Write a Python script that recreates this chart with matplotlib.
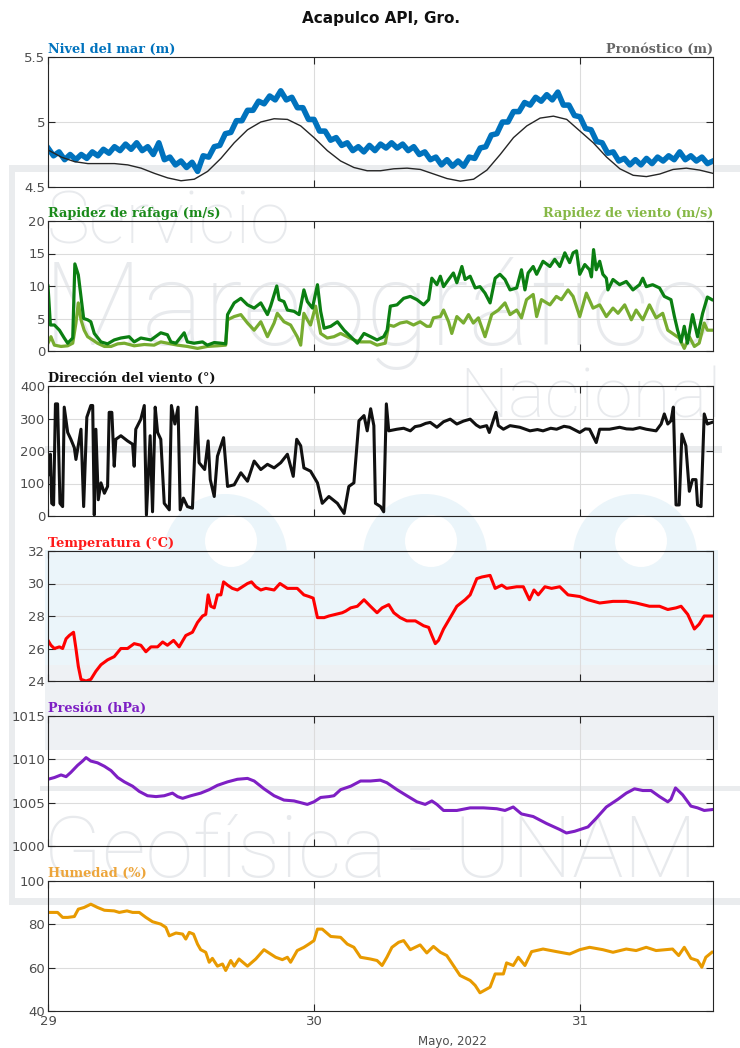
import numpy as np
import matplotlib.pyplot as plt
from matplotlib.patches import Rectangle, Circle

# ------------------ Datos: días de mayo de 2022 ------------------
# nivel del mar observado, cada 30 min desde el 29 a las 00:00
nivel_mar = [
    4.80, 4.74, 4.77, 4.71, 4.75, 4.71, 4.75, 4.72, 4.77, 4.74,
    4.79, 4.76, 4.81, 4.78, 4.83, 4.79, 4.84, 4.78, 4.81, 4.75,
    4.84, 4.71, 4.73, 4.67, 4.70, 4.65, 4.69, 4.62, 4.74, 4.73,
    4.81, 4.82, 4.91, 4.92, 5.01, 5.01, 5.09, 5.09, 5.16, 5.14,
    5.20, 5.17, 5.24, 5.17, 5.19, 5.11, 5.11, 5.02, 5.02, 4.93,
    4.93, 4.86, 4.88, 4.82, 4.84, 4.78, 4.81, 4.77, 4.82, 4.78,
    4.83, 4.80, 4.84, 4.80, 4.83, 4.78, 4.81, 4.75, 4.77, 4.71,
    4.73, 4.67, 4.71, 4.66, 4.70, 4.66, 4.73, 4.72, 4.80, 4.81,
    4.90, 4.91, 5.00, 5.00, 5.08, 5.08, 5.15, 5.13, 5.19, 5.16,
    5.21, 5.17, 5.23, 5.13, 5.13, 5.05, 5.04, 4.95, 4.94, 4.85,
    4.84, 4.76, 4.77, 4.70, 4.72, 4.67, 4.71, 4.67, 4.72, 4.68,
    4.73, 4.70, 4.74, 4.71, 4.77, 4.71, 4.74, 4.70, 4.73, 4.68,
    4.70]

# marea pronosticada, cada 0.05 días
pronostico = [
    4.785, 4.73, 4.695, 4.68, 4.68, 4.68, 4.67, 4.645, 4.605, 4.57,
    4.548, 4.56, 4.62, 4.72, 4.84, 4.94, 5.00, 5.025, 5.02, 4.97,
    4.88, 4.78, 4.70, 4.65, 4.625, 4.625, 4.64, 4.645, 4.635, 4.60,
    4.565, 4.545, 4.56, 4.63, 4.75, 4.88, 4.97, 5.03, 5.045, 5.02,
    4.93, 4.84, 4.73, 4.64, 4.59, 4.58, 4.60, 4.635, 4.645, 4.63,
    4.605]

rafaga_t = [
    29.000, 29.009, 29.024, 29.043, 29.061, 29.074, 29.093, 29.101, 29.114, 29.121,
    29.134, 29.149, 29.161, 29.174, 29.199, 29.224, 29.249, 29.274, 29.305, 29.324,
    29.349, 29.387, 29.424, 29.449, 29.462, 29.481, 29.512, 29.524, 29.549, 29.581,
    29.599, 29.625, 29.650, 29.668, 29.675, 29.700, 29.725, 29.750, 29.775, 29.800,
    29.825, 29.837, 29.860, 29.869, 29.887, 29.900, 29.925, 29.944, 29.962, 29.975,
    29.994, 30.013, 30.025, 30.038, 30.063, 30.088, 30.113, 30.138, 30.163, 30.188,
    30.213, 30.237, 30.262, 30.275, 30.287, 30.312, 30.337, 30.362, 30.387, 30.412,
    30.431, 30.443, 30.462, 30.475, 30.487, 30.506, 30.524, 30.537, 30.556, 30.568,
    30.587, 30.606, 30.624, 30.643, 30.662, 30.681, 30.699, 30.718, 30.737, 30.762,
    30.780, 30.793, 30.805, 30.824, 30.837, 30.861, 30.887, 30.905, 30.924, 30.943,
    30.961, 30.974, 30.987, 30.999, 31.018, 31.036, 31.043, 31.051, 31.061, 31.074,
    31.086, 31.099, 31.105, 31.124, 31.149, 31.174, 31.199, 31.224, 31.236, 31.249,
    31.273, 31.299, 31.317, 31.342, 31.355, 31.367, 31.380, 31.392, 31.404, 31.423,
    31.442, 31.461, 31.479, 31.496]
rafaga = [
    10.0, 4.0, 4.0, 3.2, 2.0, 1.2, 2.0, 13.4, 11.7, 9.4,
    5.0, 4.8, 4.5, 2.7, 1.4, 1.1, 1.7, 2.0, 2.2, 1.4,
    2.0, 1.7, 2.8, 2.5, 1.4, 1.2, 2.8, 1.4, 1.2, 1.4,
    0.9, 1.3, 1.2, 1.1, 5.6, 7.4, 8.1, 7.1, 6.6, 7.4,
    5.6, 6.9, 10.0, 7.9, 7.6, 6.3, 6.1, 5.6, 9.4, 7.6,
    6.6, 10.2, 6.1, 3.5, 3.8, 4.5, 3.2, 2.2, 1.2, 2.7,
    2.2, 1.7, 2.2, 3.2, 6.9, 7.1, 8.1, 8.4, 7.9, 7.1,
    7.9, 11.2, 10.2, 11.5, 9.9, 11.0, 12.0, 10.5, 13.0, 11.0,
    11.5, 9.7, 9.9, 8.9, 7.4, 11.2, 11.8, 11.0, 9.4, 9.7,
    12.5, 9.4, 12.0, 13.0, 11.8, 13.8, 13.0, 14.1, 13.0, 15.1,
    13.6, 15.1, 15.4, 11.8, 13.3, 12.5, 11.4, 15.6, 12.5, 13.8,
    11.8, 11.2, 9.4, 11.0, 10.2, 10.7, 9.4, 10.2, 11.2, 9.9,
    10.2, 9.7, 8.4, 7.9, 5.3, 3.2, 1.4, 3.8, 1.2, 5.6,
    2.2, 5.8, 8.3, 7.9]

viento_t = [
    29.000, 29.011, 29.024, 29.049, 29.074, 29.093, 29.105, 29.114, 29.124, 29.136,
    29.149, 29.168, 29.186, 29.212, 29.237, 29.262, 29.287, 29.324, 29.362, 29.399,
    29.424, 29.449, 29.487, 29.524, 29.562, 29.599, 29.637, 29.668, 29.675, 29.700,
    29.725, 29.750, 29.775, 29.800, 29.825, 29.850, 29.862, 29.887, 29.912, 29.937,
    29.950, 29.962, 29.975, 29.987, 30.006, 30.025, 30.050, 30.075, 30.100, 30.125,
    30.150, 30.175, 30.212, 30.237, 30.268, 30.281, 30.300, 30.324, 30.349, 30.374,
    30.399, 30.424, 30.437, 30.449, 30.475, 30.487, 30.506, 30.518, 30.537, 30.562,
    30.581, 30.599, 30.618, 30.643, 30.668, 30.693, 30.718, 30.737, 30.762, 30.780,
    30.799, 30.824, 30.837, 30.855, 30.887, 30.911, 30.930, 30.955, 30.974, 30.999,
    31.024, 31.049, 31.074, 31.099, 31.124, 31.143, 31.168, 31.193, 31.211, 31.236,
    31.261, 31.286, 31.311, 31.330, 31.348, 31.373, 31.392, 31.411, 31.430, 31.448,
    31.467, 31.479, 31.496]
viento = [
    1.2, 2.2, 0.9, 0.7, 0.8, 1.2, 4.3, 7.4, 4.8, 3.2,
    2.2, 1.7, 1.2, 0.7, 0.7, 1.1, 1.2, 0.8, 1.0, 0.9,
    1.4, 1.2, 0.9, 0.7, 0.4, 0.7, 0.8, 0.9, 4.8, 5.3,
    5.6, 4.3, 3.2, 4.5, 2.2, 4.3, 5.8, 4.5, 4.0, 2.2,
    0.9, 5.8, 4.8, 4.0, 6.9, 2.7, 2.0, 2.2, 2.7, 2.2,
    1.7, 1.4, 1.4, 0.9, 1.2, 4.0, 3.8, 4.3, 4.5, 4.0,
    4.5, 3.8, 3.8, 5.1, 5.3, 6.3, 4.5, 2.7, 5.3, 4.3,
    5.6, 4.3, 5.1, 2.2, 5.6, 6.3, 7.4, 5.6, 6.3, 5.1,
    7.9, 8.7, 5.3, 7.9, 7.1, 8.4, 7.9, 9.4, 8.4, 5.3,
    8.9, 6.6, 7.1, 5.3, 6.6, 5.8, 7.1, 4.8, 6.3, 4.8,
    7.1, 5.1, 5.8, 3.2, 2.7, 2.0, 0.4, 2.2, 0.7, 1.2,
    4.3, 3.2, 3.2]

direccion_t = [
    29.000, 29.009, 29.014, 29.021, 29.028, 29.036, 29.045, 29.055, 29.061, 29.074,
    29.086, 29.099, 29.105, 29.124, 29.134, 29.146, 29.161, 29.168, 29.174, 29.180,
    29.189, 29.199, 29.212, 29.224, 29.230, 29.240, 29.249, 29.255, 29.274, 29.299,
    29.318, 29.324, 29.330, 29.349, 29.362, 29.370, 29.384, 29.393, 29.403, 29.412,
    29.424, 29.437, 29.456, 29.464, 29.477, 29.489, 29.497, 29.509, 29.524, 29.543,
    29.559, 29.568, 29.589, 29.602, 29.610, 29.625, 29.637, 29.660, 29.675, 29.700,
    29.725, 29.750, 29.775, 29.800, 29.825, 29.850, 29.875, 29.900, 29.922, 29.935,
    29.950, 29.962, 29.987, 30.013, 30.031, 30.056, 30.088, 30.113, 30.131, 30.150,
    30.169, 30.188, 30.200, 30.213, 30.225, 30.231, 30.250, 30.262, 30.272, 30.281,
    30.312, 30.337, 30.362, 30.380, 30.400, 30.420, 30.437, 30.462, 30.487, 30.512,
    30.537, 30.562, 30.587, 30.610, 30.624, 30.649, 30.659, 30.684, 30.693, 30.712,
    30.737, 30.774, 30.812, 30.840, 30.861, 30.890, 30.912, 30.940, 30.961, 30.999,
    31.020, 31.036, 31.061, 31.074, 31.111, 31.149, 31.175, 31.199, 31.225, 31.249,
    31.286, 31.305, 31.317, 31.330, 31.342, 31.351, 31.361, 31.373, 31.383, 31.398,
    31.411, 31.423, 31.436, 31.442, 31.455, 31.467, 31.479, 31.496]
direccion = [
    127, 190, 39, 34, 345, 345, 39, 29, 335, 257,
    236, 210, 174, 267, 29, 304, 340, 340, 3, 267,
    50, 102, 70, 91, 319, 319, 153, 236, 247, 231,
    221, 153, 267, 298, 340, 3, 247, 13, 335, 257,
    236, 39, 19, 340, 283, 335, 19, 55, 29, 24,
    335, 164, 143, 231, 112, 60, 184, 241, 91, 96,
    133, 107, 169, 143, 159, 148, 164, 190, 122, 236,
    216, 148, 138, 102, 39, 60, 39, 8, 91, 102,
    293, 309, 262, 330, 278, 39, 29, 13, 345, 262,
    267, 270, 262, 275, 278, 285, 288, 273, 290, 298,
    283, 292, 298, 280, 273, 278, 257, 319, 278, 267,
    278, 273, 262, 266, 262, 270, 267, 276, 273, 257,
    268, 267, 226, 267, 267, 273, 268, 267, 272, 267,
    262, 283, 314, 283, 293, 335, 34, 34, 252, 216,
    76, 112, 112, 34, 29, 314, 283, 288]

temp_t = [
    29.000, 29.011, 29.024, 29.043, 29.055, 29.068, 29.080, 29.096, 29.105, 29.114,
    29.124, 29.143, 29.161, 29.180, 29.199, 29.224, 29.249, 29.274, 29.299, 29.324,
    29.349, 29.368, 29.387, 29.412, 29.431, 29.449, 29.472, 29.493, 29.518, 29.543,
    29.562, 29.581, 29.593, 29.602, 29.612, 29.625, 29.637, 29.650, 29.660, 29.675,
    29.693, 29.712, 29.731, 29.750, 29.765, 29.781, 29.800, 29.819, 29.850, 29.872,
    29.900, 29.925, 29.937, 29.962, 29.981, 29.997, 30.013, 30.038, 30.056, 30.081,
    30.106, 30.119, 30.138, 30.163, 30.188, 30.212, 30.237, 30.256, 30.281, 30.300,
    30.324, 30.349, 30.381, 30.412, 30.431, 30.443, 30.456, 30.468, 30.487, 30.512,
    30.537, 30.568, 30.587, 30.612, 30.631, 30.662, 30.681, 30.706, 30.724, 30.762,
    30.787, 30.810, 30.827, 30.843, 30.868, 30.893, 30.924, 30.955, 30.999, 31.030,
    31.074, 31.124, 31.174, 31.211, 31.261, 31.299, 31.330, 31.361, 31.380, 31.405,
    31.430, 31.448, 31.467, 31.496]
temperatura = [
    26.5, 26.2, 26.0, 26.1, 26.0, 26.6, 26.8, 27.0, 26.0, 24.9,
    24.1, 24.0, 24.1, 24.6, 25.0, 25.3, 25.5, 26.0, 26.0, 26.3,
    26.2, 25.8, 26.1, 26.1, 26.4, 26.2, 26.5, 26.1, 26.8, 27.0,
    27.6, 28.0, 28.1, 29.3, 28.6, 28.5, 29.3, 29.3, 30.1, 29.9,
    29.7, 29.6, 29.8, 30.0, 30.1, 29.8, 29.6, 29.7, 29.6, 30.0,
    29.7, 29.7, 29.7, 29.3, 29.2, 29.1, 27.9, 27.9, 28.0, 28.1,
    28.2, 28.3, 28.5, 28.6, 29.0, 28.6, 28.2, 28.5, 28.7, 28.2,
    27.9, 27.7, 27.7, 27.4, 27.3, 26.8, 26.3, 26.5, 27.2, 27.9,
    28.6, 29.0, 29.3, 30.3, 30.4, 30.5, 29.7, 29.9, 29.7, 29.8,
    29.8, 29.0, 29.6, 29.3, 29.8, 29.7, 29.8, 29.3, 29.2, 29.0,
    28.8, 28.9, 28.9, 28.8, 28.6, 28.6, 28.4, 28.5, 28.6, 28.1,
    27.2, 27.5, 28.0, 28.0]

presion_t = [
    29.000, 29.024, 29.049, 29.068, 29.086, 29.111, 29.130, 29.143, 29.161, 29.186,
    29.212, 29.237, 29.262, 29.287, 29.318, 29.343, 29.374, 29.406, 29.437, 29.468,
    29.487, 29.506, 29.537, 29.574, 29.606, 29.637, 29.675, 29.712, 29.750, 29.775,
    29.812, 29.850, 29.887, 29.925, 29.950, 29.975, 30.000, 30.025, 30.056, 30.075,
    30.100, 30.138, 30.175, 30.212, 30.249, 30.274, 30.312, 30.349, 30.387, 30.418,
    30.443, 30.462, 30.487, 30.537, 30.587, 30.637, 30.687, 30.718, 30.749, 30.780,
    30.824, 30.874, 30.924, 30.949, 30.980, 31.030, 31.061, 31.099, 31.143, 31.174,
    31.205, 31.236, 31.267, 31.299, 31.330, 31.342, 31.359, 31.386, 31.417, 31.442,
    31.467, 31.496]
presion = [
    1007.7, 1007.9, 1008.2, 1008.0, 1008.5, 1009.3, 1009.8, 1010.2, 1009.8, 1009.6,
    1009.2, 1008.7, 1007.9, 1007.4, 1006.9, 1006.3, 1005.8, 1005.7, 1005.8, 1006.1,
    1005.7, 1005.5, 1005.8, 1006.1, 1006.5, 1007.0, 1007.4, 1007.7, 1007.8, 1007.5,
    1006.6, 1005.8, 1005.3, 1005.2, 1005.0, 1004.8, 1005.1, 1005.6, 1005.7, 1005.8,
    1006.5, 1006.9, 1007.5, 1007.5, 1007.6, 1007.3, 1006.5, 1005.8, 1005.1, 1004.8,
    1005.2, 1004.8, 1004.1, 1004.1, 1004.4, 1004.4, 1004.3, 1004.1, 1004.5, 1003.7,
    1003.4, 1002.6, 1001.9, 1001.5, 1001.7, 1002.2, 1003.2, 1004.5, 1005.4, 1006.1,
    1006.6, 1006.4, 1006.4, 1005.7, 1005.1, 1005.4, 1006.7, 1005.9, 1004.6, 1004.4,
    1004.1, 1004.2]

humedad_t = [
    29.000, 29.036, 29.055, 29.074, 29.099, 29.114, 29.136, 29.161, 29.186, 29.212,
    29.249, 29.268, 29.297, 29.318, 29.343, 29.368, 29.393, 29.424, 29.443, 29.456,
    29.481, 29.506, 29.518, 29.531, 29.547, 29.562, 29.574, 29.593, 29.606, 29.618,
    29.637, 29.656, 29.668, 29.687, 29.700, 29.718, 29.750, 29.781, 29.812, 29.837,
    29.856, 29.881, 29.900, 29.912, 29.937, 29.962, 29.981, 30.000, 30.013, 30.031,
    30.063, 30.100, 30.125, 30.150, 30.175, 30.212, 30.237, 30.256, 30.274, 30.293,
    30.318, 30.337, 30.362, 30.399, 30.424, 30.449, 30.475, 30.499, 30.524, 30.549,
    30.587, 30.606, 30.624, 30.662, 30.681, 30.712, 30.724, 30.749, 30.768, 30.793,
    30.818, 30.861, 30.912, 30.961, 30.999, 31.036, 31.086, 31.124, 31.174, 31.211,
    31.249, 31.286, 31.348, 31.371, 31.392, 31.417, 31.442, 31.458, 31.473, 31.496]
humedad = [
    85.5, 85.5, 83.2, 83.2, 83.6, 87.0, 87.8, 89.3, 87.8, 86.5,
    86.2, 85.5, 86.2, 85.5, 85.5, 83.2, 81.2, 80.1, 78.6, 74.7,
    76.0, 75.5, 73.2, 76.3, 75.5, 70.9, 68.3, 67.1, 62.5, 64.3,
    60.7, 61.7, 58.7, 63.3, 60.7, 64.0, 60.7, 64.0, 68.3, 66.3,
    64.8, 63.7, 64.8, 62.5, 67.9, 69.4, 70.9, 72.5, 77.8, 77.8,
    74.4, 74.0, 70.9, 69.4, 64.8, 64.0, 63.3, 61.0, 64.8, 69.4,
    71.7, 72.5, 68.3, 70.5, 66.8, 69.8, 67.1, 65.6, 61.0, 56.4,
    54.1, 51.8, 48.4, 51.0, 57.1, 57.1, 62.2, 61.0, 64.8, 61.0,
    67.4, 68.6, 67.4, 66.3, 68.3, 69.4, 68.3, 67.1, 68.6, 67.9,
    69.4, 67.9, 68.6, 65.6, 69.4, 64.3, 63.3, 60.2, 64.8, 67.1]

dias = [29, 30, 31]

# ------------------ Figura ------------------
W_PX, H_PX = 740, 1048
LEFT, RIGHT, PANEL_H = 48, 713, 130
tops = [57, 221, 386, 551, 716, 881]

fig = plt.figure(figsize=(W_PX / 100, H_PX / 100), dpi=100)

# marca de agua del fondo, en coordenadas de pixel
bg = fig.add_axes([0, 0, 1, 1], zorder=-1)
bg.set_xlim(0, W_PX)
bg.set_ylim(H_PX, 0)
bg.axis('off')

AZUL_LOGO = '#ebf5fa'
GRIS_LOGO = '#eef1f4'
BANDA = '#eaecee'
bg.add_patch(Rectangle((45, 550), 673, 200, color=AZUL_LOGO, lw=0))
bg.add_patch(Rectangle((45, 665), 673, 85, color=GRIS_LOGO, lw=0))
for cx in (225, 425, 635):
    bg.add_patch(Circle((cx, 556), 62, color=AZUL_LOGO, lw=0))
    bg.add_patch(Circle((cx + 6, 541), 26, color='white', lw=0))

bg.add_patch(Rectangle((9, 165), 731, 7, color=BANDA, lw=0))
bg.add_patch(Rectangle((9, 165), 6, 740, color=BANDA, lw=0))
bg.add_patch(Rectangle((9, 898), 731, 7, color=BANDA, lw=0))
bg.add_patch(Rectangle((45, 446), 677, 7, color=BANDA, lw=0))
bg.add_patch(Rectangle((40, 786), 700, 5, color=BANDA, lw=0))

wm = dict(family='Roboto', fontweight='light', color='#e8eaed', va='baseline')
bg.text(47, 243, 'Servicio', fontsize=52, ha='left', **wm)
bg.text(43, 345, 'Mareográfico', fontsize=84, ha='left', **wm)
bg.text(722, 418, 'Nacional', fontsize=50, ha='right', **wm)
bg.text(43, 877, 'Geofísica - UNAM', fontsize=62, ha='left', **wm)


def panel(top, ylim, yticks, yticklabels=None):
    ax = fig.add_axes([LEFT / W_PX, 1 - (top + PANEL_H) / H_PX,
                       (RIGHT - LEFT) / W_PX, PANEL_H / H_PX])
    ax.set_facecolor('none')
    ax.set_xlim(29, 31.5)
    ax.set_ylim(*ylim)
    ax.set_xticks(dias)
    ax.set_yticks(yticks)
    if yticklabels:
        ax.set_yticklabels(yticklabels)
    ax.set_xticklabels([])
    ax.grid(True, color='#dcdcdc', lw=0.8)
    ax.set_axisbelow(True)
    ax.tick_params(direction='in', top=True, right=True, length=5, width=0.8,
                   colors='#262626', labelcolor='#4d4d4d', labelsize=9.5, pad=2)
    for s in ax.spines.values():
        s.set_color('#262626')
        s.set_linewidth(0.8)
    return ax


def etiqueta(ax, texto, color, lado='left'):
    x = 0 if lado == 'left' else 1
    ax.text(x, 1.01, texto, transform=ax.transAxes, ha=lado, va='bottom',
            color=color, family='DejaVu Serif', fontweight='bold', fontsize=9.3)


# nivel del mar
ax1 = panel(tops[0], (4.5, 5.5), [4.5, 5, 5.5], ['4.5', '5', '5.5'])
t_nivel = 29 + np.arange(len(nivel_mar)) / 48
t_pron = np.linspace(29, 31.5, len(pronostico))
ax1.plot(t_nivel, nivel_mar, color='#0072BD', lw=4.0)
ax1.plot(t_pron, pronostico, color='#262626', lw=1.0)
etiqueta(ax1, 'Nivel del mar (m)', '#0072BD')
etiqueta(ax1, 'Pronóstico (m)', '#666666', 'right')

# viento
ax2 = panel(tops[1], (0, 20), [0, 5, 10, 15, 20])
ax2.plot(viento_t, viento, color='#77AC30', lw=2.3)
ax2.plot(rafaga_t, rafaga, color='#0B7F12', lw=2.3)
etiqueta(ax2, 'Rapidez de ráfaga (m/s)', '#1a8a1a')
etiqueta(ax2, 'Rapidez de viento (m/s)', '#86b846', 'right')

# dirección
ax3 = panel(tops[2], (0, 400), [0, 100, 200, 300, 400])
ax3.plot(direccion_t, direccion, color='#111111', lw=2.2)
etiqueta(ax3, 'Dirección del viento (°)', '#111111')

# temperatura
ax4 = panel(tops[3], (24, 32), [24, 26, 28, 30, 32])
ax4.plot(temp_t, temperatura, color='#FF0000', lw=2.2)
etiqueta(ax4, 'Temperatura (°C)', '#FF1A1A')

# presión
ax5 = panel(tops[4], (1000, 1015), [1000, 1005, 1010, 1015])
ax5.plot(presion_t, presion, color='#7E1FC4', lw=2.2)
etiqueta(ax5, 'Presión (hPa)', '#7E1FC4')

# humedad
ax6 = panel(tops[5], (40, 100), [40, 60, 80, 100])
ax6.plot(humedad_t, humedad, color='#E89A00', lw=2.2)
etiqueta(ax6, 'Humedad (%)', '#EDA53A')
ax6.set_xticklabels([str(d) for d in dias])
ax6.tick_params(axis='x', pad=3)

fig.text(0.515, 1 - 18 / H_PX, 'Acapulco API, Gro.', ha='center', va='center',
         fontsize=11, fontweight='bold', color='#111111')
fig.text(452 / W_PX, 1 - 1042 / H_PX, 'Mayo, 2022', ha='center', va='center',
         fontsize=8.5, color='#4d4d4d')

fig.savefig('out.png', dpi=100)
